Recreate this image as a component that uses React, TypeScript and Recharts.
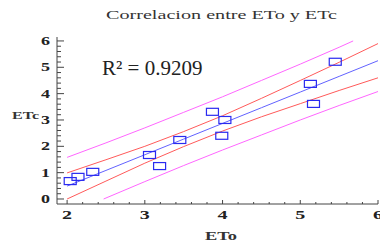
import React from 'react';
import { ComposedChart, XAxis, YAxis, Line, Scatter } from 'recharts';

const obsX = [2.04, 2.14, 2.33, 3.06, 3.19, 3.45, 3.99, 3.87, 4.03, 5.13, 5.17, 5.45];
const obsY = [0.68, 0.84, 1.03, 1.67, 1.25, 2.24, 2.40, 3.31, 3.00, 4.37, 3.61, 5.21];

const bandX = [2, 2.5, 3, 3.5, 4, 4.5, 5, 5.5, 6];
const fitY = [0.49, 1.085, 1.68, 2.275, 2.87, 3.465, 4.06, 4.655, 5.25];
const confUpper = [0.99, 1.49, 2.0, 2.56, 3.16, 3.82, 4.5, 5.19, 5.9];
const confLower = [0.0, 0.68, 1.36, 1.99, 2.58, 3.12, 3.62, 4.12, 4.6];
const predUpperX = [2, 2.5, 3, 3.5, 4, 4.5, 5, 5.5, 5.68];
const predUpper = [1.58, 2.13, 2.7, 3.29, 3.88, 4.5, 5.12, 5.76, 6.0];
const predLowerX = [2.47, 3, 3.5, 4, 4.5, 5, 5.5, 6];
const predLower = [0.0, 0.66, 1.27, 1.86, 2.43, 3.0, 3.55, 4.08];

const xTicks = [2, 2.2, 2.4, 2.6, 2.8, 3, 3.2, 3.4, 3.6, 3.8, 4, 4.2, 4.4, 4.6, 4.8, 5, 5.2, 5.4, 5.6, 5.8, 6];
const yTicks = [0, 0.2, 0.4, 0.6, 0.8, 1, 1.2, 1.4, 1.6, 1.8, 2, 2.2, 2.4, 2.6, 2.8, 3, 3.2, 3.4, 3.6, 3.8, 4, 4.2, 4.4, 4.6, 4.8, 5, 5.2, 5.4, 5.6, 5.8, 6];

const title = 'Correlacion entre ETo y ETc';
const r2Label = 'R² = 0.9209';
const xLabel = 'ETo';
const yLabel = 'ETc';

const points = obsX.map((x, i) => ({ x, y: obsY[i] }));
const fitData = bandX.map((x, i) => ({ x, y: fitY[i] }));
const cuData = bandX.map((x, i) => ({ x, y: confUpper[i] }));
const clData = bandX.map((x, i) => ({ x, y: confLower[i] }));
const puData = predUpperX.map((x, i) => ({ x, y: predUpper[i] }));
const plData = predLowerX.map((x, i) => ({ x, y: predLower[i] }));

const isMajor = (v: number) => Math.abs(v - Math.round(v)) < 1e-6;
const AX = '#444';
const labelFont = '"Liberation Serif", "Times New Roman", serif';

const BottomTick = (props: any) => {
  const { x, y, payload } = props;
  const v = payload.value;
  const major = isMajor(v);
  return (
    <g>
      <line x1={x} x2={x} y1={y} y2={y - (major ? 4 : 2)} stroke={AX} strokeWidth={1} />
      {major && (
        <text x={x} y={y + 15} textAnchor="middle" fontFamily={labelFont} fontWeight="bold" fontSize={12} fill="#222"
          textLength={10} lengthAdjust="spacingAndGlyphs">{Math.round(v)}</text>
      )}
    </g>
  );
};

const TopTick = (props: any) => {
  const { x, y, payload } = props;
  const major = isMajor(payload.value);
  return <line x1={x} x2={x} y1={y} y2={y + (major ? 4 : 2)} stroke={AX} strokeWidth={1} />;
};

const LeftTick = (props: any) => {
  const { x, y, payload } = props;
  const v = payload.value;
  const major = isMajor(v);
  return (
    <g>
      <line x1={x} x2={x + (major ? 7 : 4)} y1={y} y2={y} stroke={AX} strokeWidth={1} />
      {major && (
        <text x={x - 7} y={y + 4} textAnchor="end" fontFamily={labelFont} fontWeight="bold" fontSize={12} fill="#222"
          textLength={9} lengthAdjust="spacingAndGlyphs">{Math.round(v)}</text>
      )}
    </g>
  );
};

const Box = (props: any) => {
  const { cx, cy } = props;
  if (cx == null || cy == null) return null;
  return <rect x={cx - 6} y={cy - 3.5} width={12} height={7} fill="none" stroke="#2a2af0" strokeWidth={1.2} />;
};

export default function App() {
  return (
    <div style={{ position: 'absolute', left: 0, top: 0, width: 380, height: 244, background: '#fff' }}>
      <ComposedChart width={380} height={244} margin={{ top: 37, right: 2, bottom: 0, left: 0 }}>
        <XAxis type="number" dataKey="x" domain={[1.87, 6]} ticks={xTicks} interval={0} height={40}
          tickSize={0} tickMargin={0} tick={<BottomTick />} axisLine={{ stroke: AX }} allowDataOverflow />
        <XAxis xAxisId="top" orientation="top" type="number" dataKey="x" domain={[1.87, 6]} ticks={xTicks} interval={0}
          height={0} tickSize={0} tickMargin={0} tick={<TopTick />} axisLine={{ stroke: AX }} allowDataOverflow />
        <YAxis type="number" dataKey="y" domain={[-0.19, 6.15]} ticks={yTicks} interval={0} width={57}
          tickSize={0} tickMargin={0} tick={<LeftTick />} axisLine={{ stroke: AX }} allowDataOverflow />
        <Line data={puData} dataKey="y" type="linear" stroke="#ff66ff" strokeWidth={1} dot={false} isAnimationActive={false} />
        <Line data={plData} dataKey="y" type="linear" stroke="#ff66ff" strokeWidth={1} dot={false} isAnimationActive={false} />
        <Line data={cuData} dataKey="y" type="linear" stroke="#ff5a5a" strokeWidth={1} dot={false} isAnimationActive={false} />
        <Line data={clData} dataKey="y" type="linear" stroke="#ff5a5a" strokeWidth={1} dot={false} isAnimationActive={false} />
        <Line data={fitData} dataKey="y" type="linear" stroke="#6262ff" strokeWidth={1} dot={false} isAnimationActive={false} />
        <Scatter data={points} dataKey="y" shape={<Box />} isAnimationActive={false} />
        <text x={106} y={19} fontFamily={labelFont} fontSize={13} fill="#333" textLength={231} lengthAdjust="spacingAndGlyphs">{title}</text>
        <text x={102} y={75} fontFamily={labelFont} fontSize={21} fill="#222">{r2Label}</text>
        <text x={205} y={240} fontFamily={labelFont} fontWeight="bold" fontSize={12} fill="#333" textLength={32} lengthAdjust="spacingAndGlyphs">{xLabel}</text>
        <text x={12} y={119} fontFamily={labelFont} fontWeight="bold" fontSize={11} fill="#333" textLength={27} lengthAdjust="spacingAndGlyphs">{yLabel}</text>
      </ComposedChart>
    </div>
  );
}
